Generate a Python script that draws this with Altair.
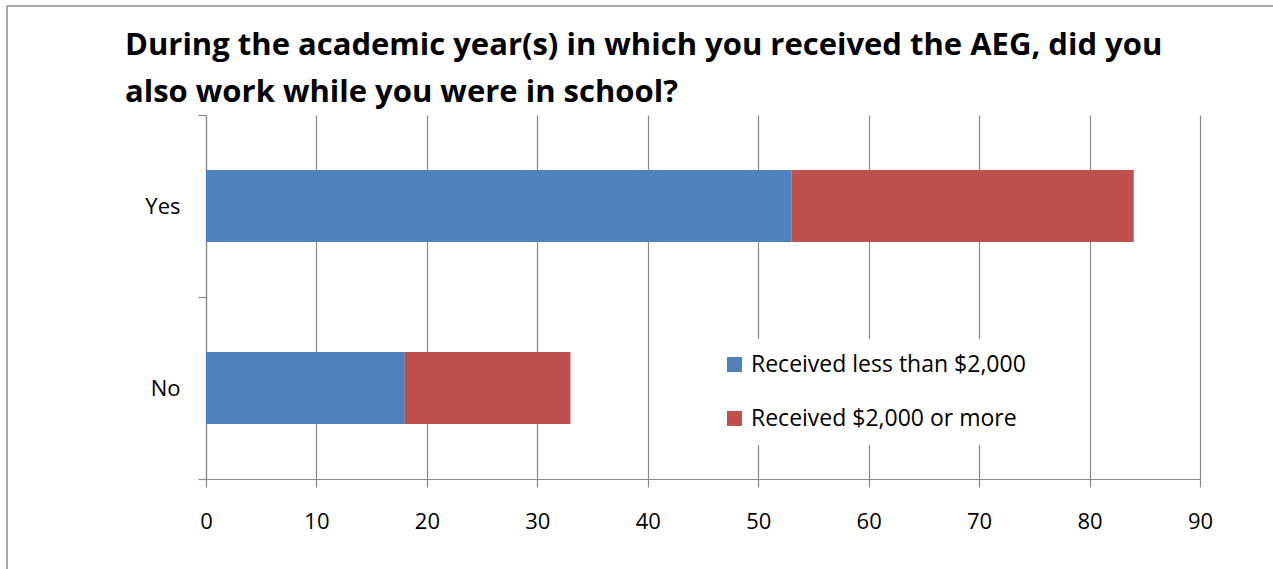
import altair as alt
import pandas as pd

categories = ["Yes", "No"]
series = ["Received less than $2,000", "Received $2,000 or more"]
less_than_2000 = [53, 18]
two_thousand_or_more = [31, 15]
colors = ["#4F81BD", "#C0504D"]
x_ticks = [0, 10, 20, 30, 40, 50, 60, 70, 80, 90]
title_lines = [
    "During the academic year(s) in which you received the AEG, did you",
    "also work while you were in school?",
]

rows = []
for i, c in enumerate(categories):
    rows.append({"answer": c, "series": series[0], "value": less_than_2000[i], "ord": 0})
    rows.append({"answer": c, "series": series[1], "value": two_thousand_or_more[i], "ord": 1})
df = pd.DataFrame(rows)

W, H = 994, 364
PL, PT = 206, 115
GRAY = "#888888"
FONT = "Open Sans"

bars = alt.Chart(df).mark_bar(height=alt.RelativeBandSize(0.395)).encode(
    x=alt.X("value:Q", stack="zero",
            scale=alt.Scale(domain=[0, 90], nice=False),
            axis=alt.Axis(values=x_ticks, grid=True, title=None, tickSize=8,
                          labelPadding=24, labelFontSize=22, format="d",
                          labelFlush=False)),
    y=alt.Y("answer:N", sort=categories,
            scale=alt.Scale(paddingInner=0, paddingOuter=0),
            axis=alt.Axis(title=None, tickBand="extent", tickSize=8,
                          labelPadding=18, labelFontSize=22, grid=False)),
    color=alt.Color("series:N", sort=series,
                    scale=alt.Scale(domain=series, range=colors),
                    legend=alt.Legend(orient="none", legendX=503, legendY=224,
                                      title=None, fillColor="white", padding=14,
                                      symbolType="square", symbolSize=225,
                                      symbolStrokeWidth=0, labelFontSize=23,
                                      labelFont=FONT, labelColor="black",
                                      labelLimit=500,
                                      rowPadding=30, labelOffset=5)),
    order=alt.Order("ord:Q"),
)

frame_df = pd.DataFrame({"k": [0]})
left_border = alt.Chart(frame_df).mark_rule(color=GRAY, strokeWidth=1.5).encode(
    x=alt.value(7 - PL), y=alt.value(6 - PT), y2=alt.value(569 - PT))
top_border = alt.Chart(frame_df).mark_rule(color=GRAY, strokeWidth=1.5).encode(
    x=alt.value(7 - PL), x2=alt.value(1273 - PL), y=alt.value(6 - PT))

chart = alt.layer(bars, left_border, top_border).properties(
    width=W, height=H,
    title=alt.TitleParams(text=title_lines, anchor="start", frame="group",
                          dx=-81, dy=128, fontSize=31, baseline="alphabetic",
                          font=FONT, fontWeight="bold", lineHeight=47,
                          color="black", offset=0),
    autosize=alt.AutoSizeParams(type="none"),
    padding={"left": PL, "top": PT, "right": 1273 - PL - W, "bottom": 569 - PT - H},
).configure_view(stroke=None).configure_axis(
    domainColor=GRAY, gridColor=GRAY, tickColor=GRAY, labelColor="black",
    labelFont=FONT, domainWidth=1.2, gridWidth=1.2, tickWidth=1.2,
)

chart.save("out.html", embed_options={"renderer": "svg", "actions": False})
